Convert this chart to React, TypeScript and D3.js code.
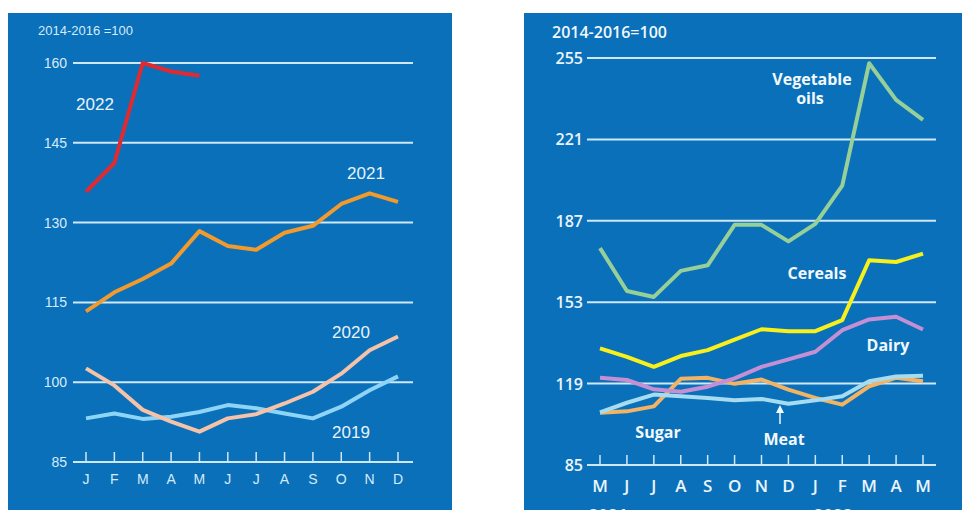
import React from 'react';
import * as d3 from 'd3';

// left panel: monthly index by year
const monthsLeft = ['J', 'F', 'M', 'A', 'M', 'J', 'J', 'A', 'S', 'O', 'N', 'D'];
const y2019 = [93.2, 94.1, 93.1, 93.5, 94.4, 95.7, 95.1, 94.1, 93.2, 95.4, 98.5, 101.1];
const y2020 = [102.6, 99.4, 94.8, 92.6, 90.7, 93.2, 94.0, 96.0, 98.2, 101.6, 106.0, 108.6];
const y2021 = [113.3, 116.9, 119.4, 122.3, 128.4, 125.6, 124.9, 128.1, 129.4, 133.5, 135.5, 133.9];
const y2022 = [135.8, 141.2, 160.0, 158.4, 157.6];
const leftTicks = [85, 100, 115, 130, 145, 160];

// right panel: sub-indices May 2021 - May 2022
const monthsRight = ['M', 'J', 'J', 'A', 'S', 'O', 'N', 'D', 'J', 'F', 'M', 'A', 'M'];
const vegOils = [175.6, 157.7, 155.2, 166.1, 168.4, 185.3, 185.3, 178.4, 185.7, 201.7, 252.8, 237.5, 229.2];
const cereals = [133.7, 130.2, 126.0, 130.5, 133.0, 137.4, 141.7, 140.9, 140.9, 145.5, 170.5, 169.8, 173.3];
const dairy = [121.4, 120.5, 116.6, 115.6, 117.7, 121.2, 126.0, 129.1, 132.3, 141.3, 145.8, 146.9, 141.6];
const sugar = [106.8, 107.4, 109.5, 121.0, 121.4, 118.9, 120.7, 116.5, 113.0, 110.2, 117.9, 121.4, 120.0];
const meat = [107.0, 111.0, 114.4, 113.7, 113.0, 112.0, 112.6, 110.6, 112.0, 113.7, 120.0, 122.0, 122.3];
const rightTicks = [85, 119, 153, 187, 221, 255];

const BLUE = '#0a70ba';
const GRID = '#cfe7f7';
const TXT = '#d6ebf8';

export default function App() {
  const xL = d3.scalePoint<number>().domain(d3.range(12)).range([86, 398]);
  const yL = d3.scaleLinear().domain([85, 160]).range([462, 63]);
  const lineL = d3.line<number>().x((d, i) => xL(i)!).y(d => yL(d));

  const xR = d3.scalePoint<number>().domain(d3.range(13)).range([600, 923]);
  const yR = d3.scaleLinear().domain([85, 255]).range([465, 58]);
  const lineR = d3.line<number>().x((d, i) => xR(i)!).y(d => yR(d));

  const leftSeries = [
    { v: y2019, c: '#8dd4f5' },
    { v: y2020, c: '#f6c2a8' },
    { v: y2021, c: '#f29a2b' },
    { v: y2022, c: '#e02a32' },
  ];
  const rightSeries = [
    { v: vegOils, c: '#96cf98' },
    { v: sugar, c: '#f3b364' },
    { v: meat, c: '#a6dcef' },
    { v: dairy, c: '#c58fd3' },
    { v: cereals, c: '#f8f01c' },
  ];

  const narrow = '"Liberation Sans Narrow", "Liberation Sans", sans-serif';
  const bold = '"Open Sans", "DejaVu Sans", sans-serif';

  return (
    <div style={{ position: 'absolute', left: 0, top: 0 }}>
      <svg width={962} height={510} style={{ display: 'block' }}>
        <rect width={962} height={510} fill="#fff" />

        {/* left panel */}
        <rect x={8} y={13} width={444} height={497} fill={BLUE} />
        <text x={38} y={35} fill={TXT} fontSize={13} fontFamily={narrow}>2014-2016 =100</text>
        {leftTicks.map(t => (
          <g key={t}>
            <line x1={73} x2={413} y1={yL(t)} y2={yL(t)} stroke={GRID} strokeWidth={2} />
            <text x={67} y={yL(t) + 5} textAnchor="end" fill={TXT} fontSize={14} fontFamily={narrow}>{t}</text>
          </g>
        ))}
        {monthsLeft.map((m, i) => (
          <g key={i}>
            <line x1={xL(i)} x2={xL(i)} y1={yL(85)} y2={yL(85) - 10} stroke={GRID} strokeWidth={1.5} />
            <text x={xL(i)} y={yL(85) + 22} textAnchor="middle" fill={TXT} fontSize={14} fontFamily={narrow}>{m}</text>
          </g>
        ))}
        {leftSeries.map((s, i) => (
          <path key={i} d={lineL(s.v)!} fill="none" stroke={s.c} strokeWidth={4} strokeLinejoin="round" />
        ))}
        <text x={95} y={110} textAnchor="middle" fill="#e8f3fb" fontSize={17} fontFamily={narrow}>2022</text>
        <text x={366} y={179} textAnchor="middle" fill="#e8f3fb" fontSize={17} fontFamily={narrow}>2021</text>
        <text x={351} y={338} textAnchor="middle" fill="#e8f3fb" fontSize={17} fontFamily={narrow}>2020</text>
        <text x={351} y={438} textAnchor="middle" fill="#e8f3fb" fontSize={17} fontFamily={narrow}>2019</text>

        {/* right panel */}
        <rect x={524} y={13} width={438} height={497} fill={BLUE} />
        <text x={552} y={38} fill="#f2f8fc" fontSize={16} fontFamily={bold} fontWeight={600}>2014-2016=100</text>
        {rightTicks.map(t => (
          <g key={t}>
            <line x1={587} x2={936} y1={yR(t)} y2={yR(t)} stroke={GRID} strokeWidth={2} />
            <text x={583} y={yR(t) + 6} textAnchor="end" fill="#eaf4fb" fontSize={16} fontFamily={bold} fontWeight={600}>{t}</text>
          </g>
        ))}
        {monthsRight.map((m, i) => (
          <g key={i}>
            <line x1={xR(i)} x2={xR(i)} y1={yR(85)} y2={yR(85) - 10} stroke={GRID} strokeWidth={1.5} />
            <text x={xR(i)} y={yR(85) + 27} textAnchor="middle" fill="#eaf4fb" fontSize={17} fontFamily={bold} fontWeight={600}>{m}</text>
          </g>
        ))}
        <text x={608} y={522} textAnchor="middle" fill="#eaf4fb" fontSize={17} fontFamily={bold} fontWeight={700}>2021</text>
        <text x={833} y={522} textAnchor="middle" fill="#eaf4fb" fontSize={17} fontFamily={bold} fontWeight={700}>2022</text>
        {rightSeries.map((s, i) => (
          <path key={i} d={lineR(s.v)!} fill="none" stroke={s.c} strokeWidth={4} strokeLinejoin="round" />
        ))}
        <g fill="#f2f8fc" fontSize={16} fontFamily={bold} fontWeight={700} textAnchor="middle">
          <text x={812} y={85}>Vegetable</text>
          <text x={810} y={104}>oils</text>
          <text x={817} y={279}>Cereals</text>
          <text x={888} y={351}>Dairy</text>
          <text x={658} y={438}>Sugar</text>
          <text x={784} y={445}>Meat</text>
        </g>
        <line x1={780} x2={780} y1={424} y2={408} stroke="#f2f8fc" strokeWidth={1.5} />
        <path d="M776,413 L780,405 L784,413 Z" fill="#f2f8fc" />
      </svg>
    </div>
  );
}
